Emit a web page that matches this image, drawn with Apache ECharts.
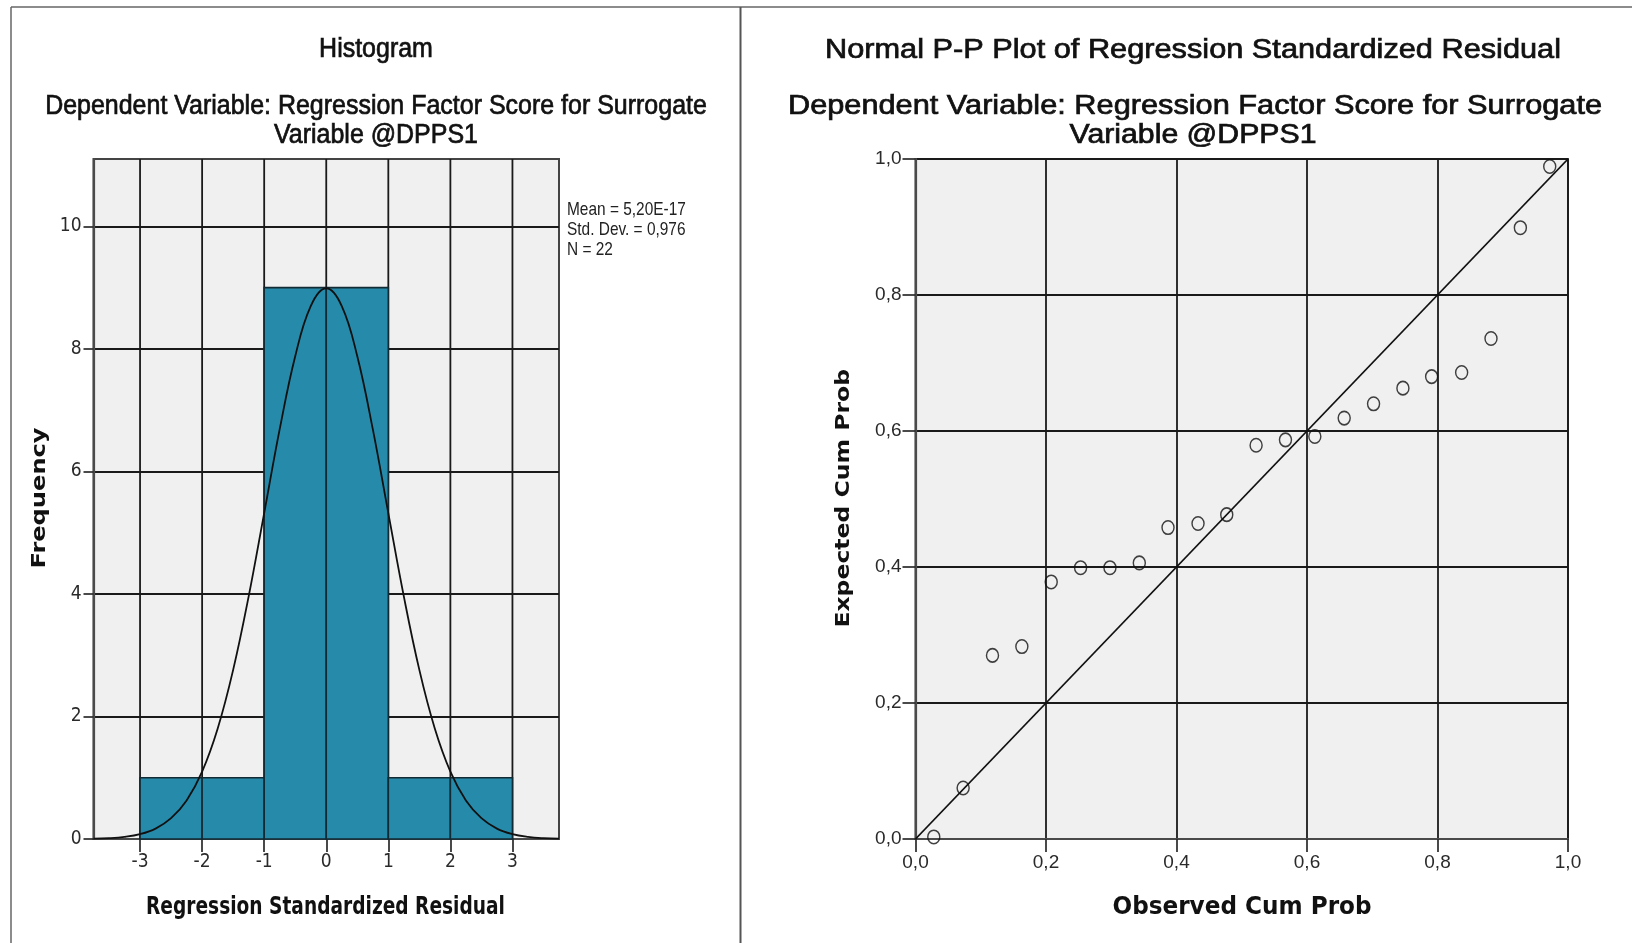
<!DOCTYPE html>
<html>
<head>
<meta charset="utf-8">
<script src="https://cdn.jsdelivr.net/npm/echarts@6/dist/echarts.min.js"></script>
<style>
html,body{margin:0;padding:0;background:#fff;}
#chart{width:1632px;height:943px;}
</style>
</head>
<body>
<div id="chart"></div>
<script>
// ---------- data ----------
const histBinStart = [-3, -2, -1, 0, 1, 2];
const histBinEnd   = [-2, -1, 0, 1, 2, 3];
const histFreq     = [1, 1, 9, 9, 1, 1];
const histXTicks   = [-3, -2, -1, 0, 1, 2, 3];
const histYTicks   = [0, 2, 4, 6, 8, 10];
// normal curve (mean ~0, sd 0.976, N 22)
const curveX = [-3.75,-3.5,-3.25,-3,-2.75,-2.5,-2.25,-2,-1.75,-1.5,-1.25,-1,-0.75,-0.5,-0.25,0,
                0.25,0.5,0.75,1,1.25,1.5,1.75,2,2.25,2.5,2.75,3,3.25,3.5,3.75];
const curveY = [0.006,0.014,0.035,0.080,0.17,0.34,0.63,1.10,1.80,2.76,3.96,5.32,6.69,7.88,8.70,8.99,
                8.70,7.88,6.69,5.32,3.96,2.76,1.80,1.10,0.63,0.34,0.17,0.080,0.035,0.014,0.006];
const histStats = ['Mean = 5,20E-17', 'Std. Dev. = 0,976', 'N = 22'];

const ppObserved = [0.028,0.073,0.118,0.163,0.208,0.253,0.298,0.343,0.387,0.433,0.477,
                    0.522,0.567,0.612,0.657,0.702,0.747,0.791,0.837,0.882,0.927,0.972];
const ppExpected = [0.003,0.075,0.270,0.283,0.378,0.399,0.399,0.406,0.458,0.464,0.477,
                    0.579,0.587,0.592,0.619,0.640,0.663,0.680,0.686,0.736,0.899,0.989];
const ppRefX = [0, 1];
const ppRefY = [0, 1];

const leftTitle  = ['Histogram', 'Dependent Variable: Regression Factor Score for Surrogate', 'Variable @DPPS1'];
const rightTitle = ['Normal P-P Plot of Regression Standardized Residual', 'Dependent Variable: Regression Factor Score for Surrogate', 'Variable @DPPS1'];

// ---------- styles ----------
const NARROW = '"Liberation Sans Narrow", "DejaVu Sans Condensed", "Liberation Sans", sans-serif';
const SANS = '"Liberation Sans", Arial, sans-serif';
const BOLDF = '"DejaVu Sans", Verdana, sans-serif';
const axisLineStyle = {color: '#4a4a4a', width: 2.2};
const tickLineStyle = {color: '#2a2a2a', width: 1.7};
const gridLineStyle = {color: '#1a1a1a', width: 1.8};

const chart = echarts.init(document.getElementById('chart'), null, {renderer: 'canvas'});

function txt(text, x, y, font, opts) {
  opts = opts || {};
  const style = {
    text: text, font: font, fill: opts.fill || '#111',
    align: opts.align || 'center', verticalAlign: 'middle',
    textAlign: opts.align || 'center', textVerticalAlign: 'middle'
  };
  if (opts.stroke) { style.stroke = opts.fill || '#111'; style.lineWidth = opts.stroke; }
  return {
    type: 'text', x: x, y: y,
    rotation: opts.rotation || 0,
    scaleX: opts.scaleX || 1, scaleY: opts.scaleY || 1,
    silent: true, z: 100,
    style: style
  };
}

const graphics = [
  {type: 'line', silent: true, shape: {x1: 11, y1: 7, x2: 1632, y2: 7}, style: {stroke: '#666', lineWidth: 1.5}},
  {type: 'line', silent: true, shape: {x1: 11, y1: 7, x2: 11, y2: 943}, style: {stroke: '#666', lineWidth: 1.5}},
  {type: 'line', silent: true, shape: {x1: 740.5, y1: 7, x2: 740.5, y2: 943}, style: {stroke: '#555', lineWidth: 2}},
  txt(leftTitle[0], 376, 49.5, '27px ' + SANS, {scaleX: 0.925, stroke: 0.7}),
  txt(leftTitle[1], 376, 107, '27px ' + SANS, {scaleX: 0.925, stroke: 0.7}),
  txt(leftTitle[2], 376, 136, '27px ' + SANS, {scaleX: 0.925, stroke: 0.7}),
  txt(rightTitle[0], 1193, 50.5, '27px ' + SANS, {scaleX: 1.138, stroke: 0.7}),
  txt(rightTitle[1], 1195, 106.3, '27px ' + SANS, {scaleX: 1.138, stroke: 0.7}),
  txt(rightTitle[2], 1193, 135.5, '27px ' + SANS, {scaleX: 1.12, stroke: 0.7}),
  txt(histStats[0], 567, 210, '18.6px ' + SANS, {align: 'left', scaleX: 0.83, fill: '#222'}),
  txt(histStats[1], 567, 230, '18.6px ' + SANS, {align: 'left', scaleX: 0.83, fill: '#222'}),
  txt(histStats[2], 567, 250, '18.6px ' + SANS, {align: 'left', scaleX: 0.83, fill: '#222'}),
  txt('Frequency', 40, 498, 'bold 19.5px ' + BOLDF, {rotation: Math.PI / 2, scaleX: 1.236}),
  txt('Expected Cum Prob', 843.5, 498.3, 'bold 19.6px ' + BOLDF, {rotation: Math.PI / 2, scaleX: 1.2}),
  txt('Regression Standardized Residual', 325.5, 907, 'bold 25px ' + BOLDF, {scaleX: 0.744}),
  txt('Observed Cum Prob', 1242, 907, 'bold 25px ' + BOLDF, {scaleX: 0.926})
];

const ppFmt = v => v.toFixed(1).replace('.', ',');

const option = {
  animation: false,
  backgroundColor: '#fff',
  grid: [
    {left: 93.5, top: 159, width: 465.5, height: 680, show: true, backgroundColor: '#f0f0f0', borderColor: '#444', borderWidth: 2},
    {left: 915.5, top: 159, width: 652.5, height: 680, show: true, backgroundColor: '#f0f0f0', borderColor: '#444', borderWidth: 2}
  ],
  xAxis: [
    {
      gridIndex: 0, type: 'value', min: -3.75, max: 3.75,
      axisLine: {show: true, onZero: false, lineStyle: axisLineStyle},
      axisTick: {show: true, length: 13, customValues: histXTicks, lineStyle: tickLineStyle},
      axisLabel: {show: true, customValues: histXTicks, margin: 14, fontSize: 19, fontFamily: NARROW, color: '#2a2a2a',
                  formatter: v => String(v)},
      splitLine: {show: false}
    },
    {
      gridIndex: 1, type: 'value', min: 0, max: 1, interval: 0.2,
      axisLine: {show: true, onZero: false, lineStyle: axisLineStyle},
      axisTick: {show: true, length: 13, lineStyle: tickLineStyle},
      axisLabel: {show: true, margin: 14, fontSize: 19, fontFamily: SANS, color: '#2a2a2a', formatter: ppFmt},
      splitLine: {show: true, lineStyle: gridLineStyle}
    }
  ],
  yAxis: [
    {
      gridIndex: 0, type: 'value', min: 0, max: 11.1, interval: 2,
      axisLine: {show: true, onZero: false, lineStyle: axisLineStyle},
      axisTick: {show: true, length: 10, customValues: histYTicks, lineStyle: tickLineStyle},
      axisLabel: {show: true, customValues: histYTicks, margin: 12, fontSize: 19, fontFamily: NARROW, color: '#2a2a2a',
                  formatter: v => String(v)},
      splitLine: {show: true, lineStyle: gridLineStyle}
    },
    {
      gridIndex: 1, type: 'value', min: 0, max: 1, interval: 0.2,
      axisLine: {show: true, onZero: false, lineStyle: axisLineStyle},
      axisTick: {show: true, length: 13, lineStyle: tickLineStyle},
      axisLabel: {show: true, margin: 14, fontSize: 19, fontFamily: SANS, color: '#2a2a2a', formatter: ppFmt},
      splitLine: {show: true, lineStyle: gridLineStyle}
    }
  ],
  series: [
    {
      name: 'xgrid', type: 'custom', xAxisIndex: 0, yAxisIndex: 0, silent: true, z: 1,
      data: histXTicks.map(v => [v, 0]),
      encode: {x: 0, y: 1},
      renderItem: function (params, api) {
        const x = api.coord([api.value(0), 0])[0];
        const cs = params.coordSys;
        return {type: 'line', shape: {x1: x, y1: cs.y, x2: x, y2: cs.y + cs.height},
                style: {stroke: '#1a1a1a', lineWidth: 1.8}};
      }
    },
    {
      name: 'Frequency', type: 'custom', xAxisIndex: 0, yAxisIndex: 0, silent: true, z: 2,
      data: histBinStart.map((s, i) => [s, histBinEnd[i], histFreq[i]]),
      encode: {x: [0, 1], y: 2},
      renderItem: function (params, api) {
        const p0 = api.coord([api.value(0), 0]);
        const p1 = api.coord([api.value(1), api.value(2)]);
        return {type: 'rect', shape: {x: p0[0], y: p1[1], width: p1[0] - p0[0], height: p0[1] - p1[1]},
                style: {fill: '#268aab', stroke: '#122a33', lineWidth: 1.6}};
      }
    },
    {
      name: 'Normal', type: 'line', xAxisIndex: 0, yAxisIndex: 0, z: 3, silent: true,
      data: curveX.map((x, i) => [x, curveY[i]]),
      smooth: 0.4, showSymbol: false, symbol: 'none',
      lineStyle: {color: '#111', width: 1.8}
    },
    {
      name: 'Reference', type: 'line', xAxisIndex: 1, yAxisIndex: 1, z: 3, silent: true,
      data: ppRefX.map((x, i) => [x, ppRefY[i]]),
      showSymbol: false, symbol: 'none',
      lineStyle: {color: '#111', width: 1.8}
    },
    {
      name: 'Observed', type: 'scatter', xAxisIndex: 1, yAxisIndex: 1, z: 4, silent: true,
      data: ppObserved.map((x, i) => [x, ppExpected[i]]),
      symbol: 'circle', symbolSize: [12, 13.5],
      itemStyle: {color: 'rgba(255,255,255,0)', borderColor: '#111', borderWidth: 1.5}
    }
  ],
  graphic: graphics
};

chart.setOption(option);
</script>
</body>
</html>
